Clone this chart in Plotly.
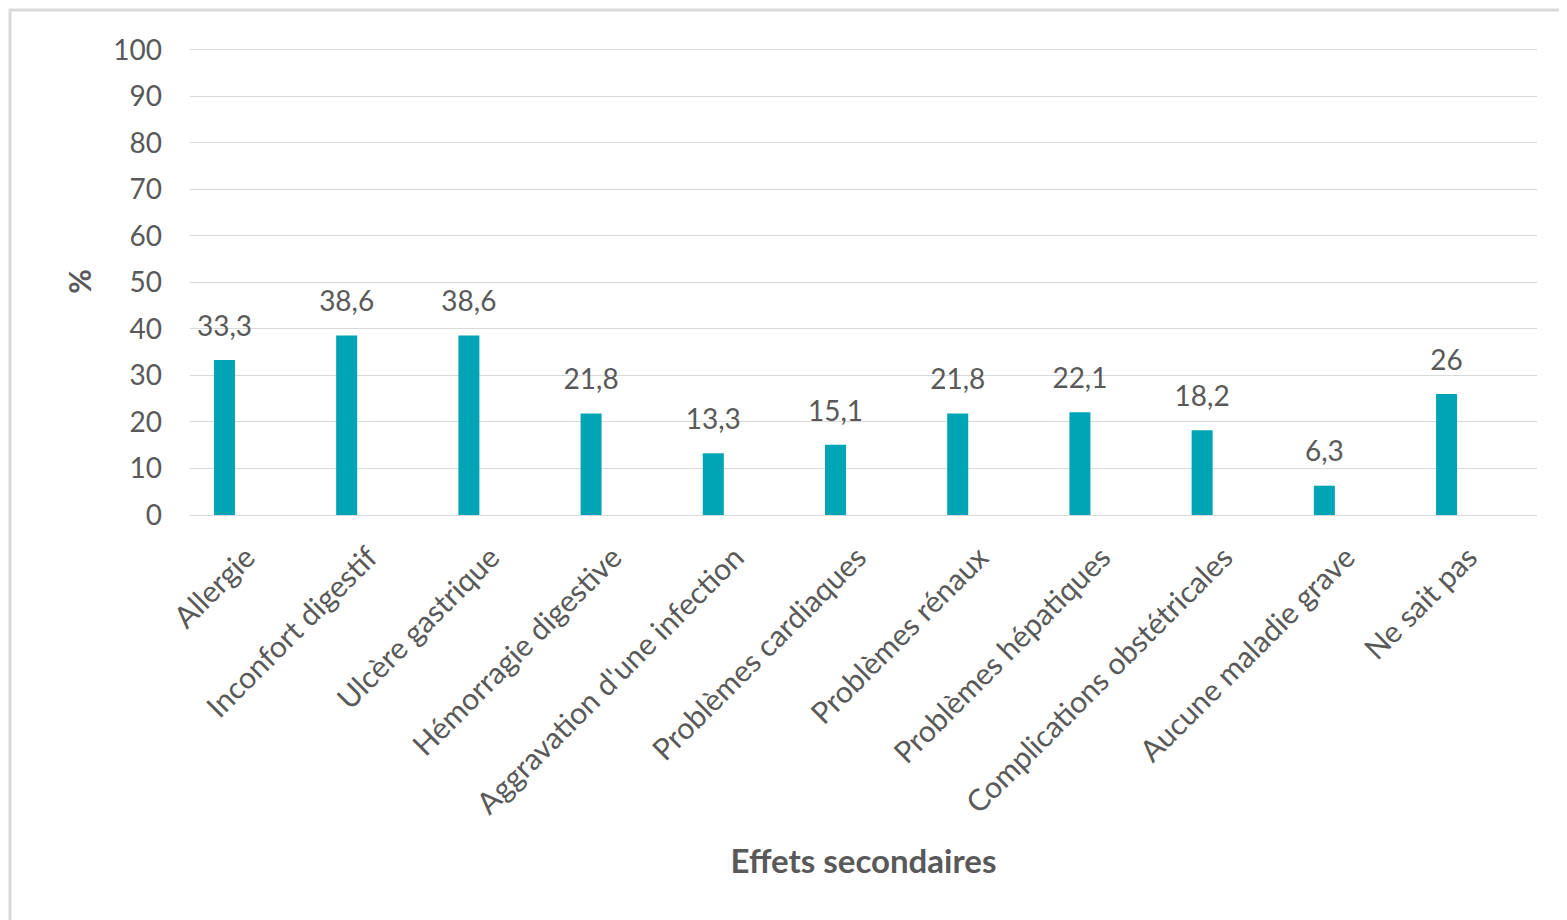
import plotly.graph_objects as go

categories = ["Allergie", "Inconfort digestif", "Ulcère gastrique", "Hémorragie digestive",
              "Aggravation d'une infection", "Problèmes cardiaques", "Problèmes rénaux",
              "Problèmes hépatiques", "Complications obstétricales", "Aucune maladie grave",
              "Ne sait pas"]
values = [33.3, 38.6, 38.6, 21.8, 13.3, 15.1, 21.8, 22.1, 18.2, 6.3, 26]
labels = ["33,3", "38,6", "38,6", "21,8", "13,3", "15,1", "21,8", "22,1", "18,2", "6,3", "26"]
y_ticks = [0, 10, 20, 30, 40, 50, 60, 70, 80, 90, 100]

W, H = 1567, 920
L, R, T, B = 182, 38, 40, 413
pw, ph = W - L - R, H - T - B
TXT = "#595959"
FONT = "Lato, Open Sans, sans-serif"

fig = go.Figure()
fig.add_trace(go.Bar(
    x=categories, y=values,
    marker=dict(color="#00A5B5", line=dict(width=0)),
    hoverinfo="x+y",
))
fig.add_trace(go.Scatter(
    x=categories, y=values, mode="markers+text", text=labels,
    textposition="top center", textfont=dict(size=28, color=TXT, family=FONT),
    marker=dict(size=26, color="rgba(0,0,0,0)"), cliponaxis=False, hoverinfo="skip",
))

fig.update_layout(
    width=W, height=H,
    margin=dict(l=L, r=R, t=T, b=B, autoexpand=False),
    paper_bgcolor="white", plot_bgcolor="white",
    font=dict(family=FONT, color=TXT),
    bargap=0.828,
    showlegend=False,
    xaxis=dict(
        range=[-0.282, 10.74],
        tickangle=-45, tickfont=dict(size=30, color=TXT),
        showgrid=False, showline=True, linecolor="#d9d9d9", linewidth=1,
        ticks="", ticklabelstandoff=12, ticklabelshift=22, automargin=False,
        title=dict(text="<b>Effets secondaires</b>", font=dict(size=33, color=TXT), standoff=30),
    ),
    yaxis=dict(
        range=[0, 100.4], tickvals=y_ticks, tickfont=dict(size=28, color=TXT),
        showgrid=True, gridcolor="#d9d9d9", gridwidth=1, zeroline=False,
        ticks="", ticklabelstandoff=27, automargin=False,
        title=dict(text="<b>%</b>", font=dict(size=30, color=TXT), standoff=12),
    ),
    shapes=[dict(type="rect", xref="paper", yref="paper",
                 x0=(2 - L) / pw, x1=(W + 60 - L) / pw,
                 y0=-(H + 20 - T - ph) / ph, y1=1 + (T - 2) / ph,
                 line=dict(color="#d9d9d9", width=3), fillcolor="rgba(0,0,0,0)", layer="below")],
)

fig.write_html("out.html")
